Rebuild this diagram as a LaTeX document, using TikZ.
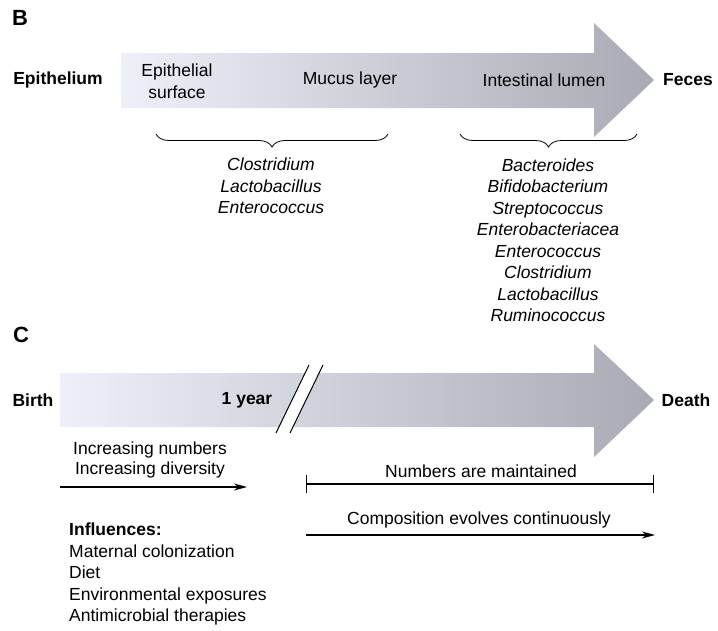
\documentclass[tikz,border=0pt]{standalone}
\usepackage{fontspec}
\setmainfont{Liberation Sans}
\usetikzlibrary{arrows.meta,decorations.pathreplacing,calc}
\definecolor{arL}{HTML}{EDF0F9}
\definecolor{arM}{HTML}{D5D8E2}
\definecolor{arR}{HTML}{A8AAB4}
\begin{document}
\begin{tikzpicture}[x=1pt,y=-1pt,
  lbl/.style={font=\fontsize{17.5}{21.5}\selectfont, inner sep=0pt, anchor=center, align=center},
  bl/.style={lbl,font=\fontsize{17.5}{21.5}\selectfont\bfseries},
  itl/.style={lbl,font=\fontsize{17.5}{21.5}\selectfont\itshape},
  panel/.style={inner sep=0pt,font=\fontsize{22}{24}\selectfont\bfseries},
  bigarrow/.style={left color=arL,middle color=arM,right color=arR, draw=none},
  brc/.style={decorate,decoration={brace,mirror,amplitude=13pt}, line width=0.8pt},
  tl/.style={line width=1.3pt, -{Stealth[length=13pt,width=7pt]}},
  bar/.style={line width=1.3pt, {Bar[width=18pt,line width=1.3pt]}-{Bar[width=18pt,line width=1.3pt]}},
]
\useasboundingbox (0,0) rectangle (718,630);
% ---------- panel B ----------
\node[panel] (B) at (20,18) {B};
\shade[bigarrow] (121,53) -- (594,53) -- (594,23) -- (654,80) -- (594,137) -- (594,108) -- (121,108) -- cycle;
\node[bl] (epi) at (58,80) {Epithelium};
\node[lbl, font=\fontsize{17.5}{22}\selectfont] (surf) at (177,81) {Epithelial\\surface};
\node[lbl] (mucus) at (350,80) {Mucus layer};
\node[lbl] (lumen) at (544,80) {Intestinal lumen};
\node[bl] (feces) at (688,80) {Feces};
\coordinate (b1a) at (156,134);
\coordinate (b1b) at (388,134);
\coordinate (b2a) at (460,134);
\coordinate (b2b) at (637,134);
\draw[brc] (b1a) -- (b1b);
\draw[brc] (b2a) -- (b2b);
\node[itl] (list1) at (271,186) {Clostridium\\Lactobacillus\\Enterococcus};
\node[itl] (list2) at (548,240) {Bacteroides\\Bifidobacterium\\Streptococcus\\Enterobacteriacea\\Enterococcus\\Clostridium\\Lactobacillus\\Ruminococcus};
% ---------- panel C ----------
\node[panel] (C) at (21,335) {C};
\shade[bigarrow] (60,373) -- (594,373) -- (594,344) -- (654,400) -- (594,457) -- (594,427) -- (60,427) -- cycle;
\fill[white] (276,433) -- (309,365) -- (323,365) -- (290,433) -- cycle;
\draw[line width=1pt] (276,433) -- (309,365);
\draw[line width=1pt] (290,433) -- (323,365);
\node[bl] (birth) at (33,400) {Birth};
\node[bl] (year) at (247,400) {1 year};
\node[bl] (death) at (686,400) {Death};
\node[lbl, font=\fontsize{17.5}{20.5}\selectfont] (incr) at (150,460) {Increasing numbers\\Increasing diversity};
\coordinate (i1) at (60,487);
\coordinate (i2) at (247,487);
\draw[tl] (i1) -- (i2);
\node[lbl] (maint) at (481,471) {Numbers are maintained};
\coordinate (m1) at (306,484);
\coordinate (m2) at (654,484);
\draw[bar] (m1) -- (m2);
\node[lbl] (comp) at (479,520) {Composition evolves continuously};
\coordinate (c1) at (306,535);
\coordinate (c2) at (655,535);
\draw[tl] (c1) -- (c2);
\node[lbl, align=left, anchor=west] (infl) at (69,574) {\textbf{Influences:}\\Maternal colonization\\Diet\\Environmental exposures\\Antimicrobial therapies};
\end{tikzpicture}
\end{document}
